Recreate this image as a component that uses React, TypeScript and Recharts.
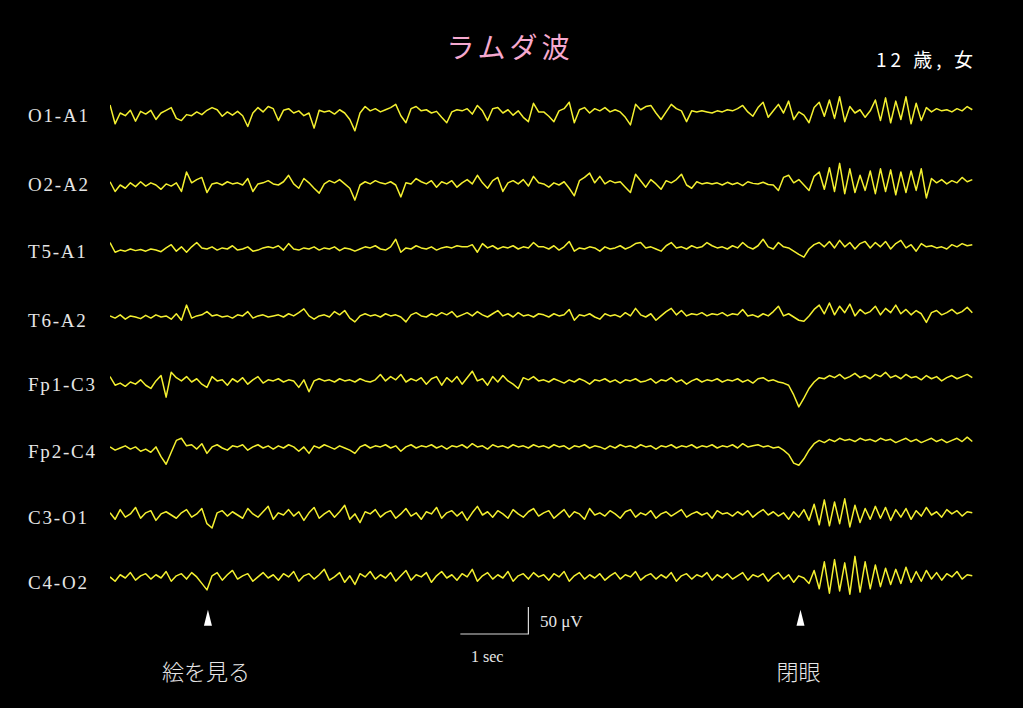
import React from 'react';
import { LineChart, Line, XAxis, YAxis, ComposedChart, Scatter } from 'recharts';

// ---- data -------------------------------------------------------------
const SAMPLE_SEC = 0.075; // seconds between samples
const TOTAL_SEC = 12.7;

const channelLabels = ['O1-A1', 'O2-A2', 'T5-A1', 'T6-A2', 'Fp1-C3', 'Fp2-C4', 'C3-O1', 'C4-O2'];

// µV, positive = up
const o1a1 = [
  15, -20, 0, -5, 5, -15, 3, -2, 5, -12,
  0, 5, 10, -10, -14, -3, -5, 2, -3, 5,
  10, 6, -6, 2, -4, 3, -5, -25, 0, 10,
  2, 12, 8, -14, 5, 8, 0, 4, -5, 0,
  -28, 5, 2, 4, -2, 6, 0, -12, -33, 0,
  12, 4, 8, 2, 6, 10, 16, -5, -18, 8,
  12, 4, 6, 0, 3, -8, -18, 2, 6, 4,
  8, -2, 14, 4, -14, 8, 10, 0, 6, -4,
  4, -8, -16, 18, 2, 2, -6, -16, 4, 8,
  20, -18, 6, 10, 0, 8, 4, 10, 2, 6,
  2, -8, -22, 16, 6, 12, 14, 0, -12, 2,
  16, 8, 4, -16, 4, 2, 4, 2, 0, 4,
  2, 6, 4, 8, 14, 2, -6, 10, 20, -8,
  4, 16, 0, 22, -12, 2, -4, -18, 10, 20,
  -6, 24, -10, 30, -16, 12, 0, 6, -8, 4,
  24, -14, 28, -18, 22, -12, 30, -20, 18, -14,
  10, 2, 8, 4, 6, 2, 8, 4, 12, 6,
];

const o2a2 = [
  6, -12, 0, -6, 4, -3, 6, -2, 4, 0,
  -8, 2, -2, 4, -12, 24, 4, 10, 14, -14,
  2, 4, 0, 6, 2, 4, 0, 12, -12, 2,
  4, 8, 2, 0, 6, 18, 2, -6, 12, 4,
  -6, -15, 2, 8, 4, 10, 2, -6, -28, 0,
  6, 2, 8, 4, 2, 6, 0, -22, 4, 2,
  12, 6, 2, 8, -4, 6, 2, 8, -4, 4,
  10, 2, 18, 4, -6, 8, 14, -12, 4, 8,
  2, 10, -2, 16, 4, 2, -4, 4, 0, 6,
  -6, -20, 8, 14, 22, 4, 16, 2, 8, 4,
  6, -4, -14, 20, 8, -4, 10, 2, -8, 8,
  4, 10, 20, 0, -6, 6, 2, 4, 2, 4,
  0, 5, 1, 4, -1, 6, 3, 2, 5, 1,
  0, -10, 14, 18, 4, 10, 0, -10, 16, 24,
  -8, 32, -12, 40, -16, 30, -14, 18, -10, 26,
  -16, 30, -12, 28, -18, 24, -14, 26, -10, 30,
  -24, 12, 4, 10, 2, 8, 4, 14, 6, 10,
];

const t5a1 = [
  12, -6, -2, -4, 0, -3, -1, -4, 0, -2,
  -5, 2, 8, -4, 4, -6, 4, 12, 2, 0,
  4, -2, 2, 0, 6, -2, 0, 4, -4, -2,
  2, 4, 2, 6, -2, 10, 0, -2, 2, 0,
  4, -2, 2, 0, 4, -3, 2, 0, -4, 0,
  4, 2, 6, 0, -2, 4, 18, -6, 2, 0,
  6, 2, 0, 4, -2, 2, 4, 2, 6, 4,
  4, 8, -6, 10, 2, 6, 0, 4, 2, 6,
  0, 4, 2, 12, 4, 4, 0, 6, -2, 4,
  14, -4, 2, 0, 4, 2, -4, 4, 0, 2,
  6, 0, 4, 10, 12, 2, 4, 0, -4, 6,
  12, 2, 4, 0, 6, 2, 4, 12, 6, 2,
  4, 0, 6, 2, 12, 4, 0, 6, 18, 4,
  0, 12, 4, 2, -4, -10, -15, 0, 8, 12,
  4, 14, 2, 16, 4, 12, 0, 10, 14, 2,
  12, 4, 14, 0, 10, 16, 2, 8, -4, 10,
  4, 6, 2, 4, 0, 8, 4, 10, 6, 8,
];

const t6a2 = [
  2, -2, 4, -4, 2, 0, -3, 3, -2, 4,
  0, 2, -4, 6, -6, 22, -2, 2, 4, 10,
  2, 4, 0, 2, -2, 4, 2, 10, -2, 2,
  4, 0, 2, 4, 0, 6, 2, 8, 15, 2,
  -4, 2, 4, 0, 10, 4, 12, -2, -9, 2,
  6, 2, 4, 0, 6, 2, 4, 0, -9, 4,
  8, 2, 0, 6, 2, 8, 4, 10, 0, 4,
  8, 2, 10, 4, 0, 6, 12, 2, 6, 0,
  8, 2, 4, 0, 6, 4, 0, 6, 2, 4,
  14, -6, 4, 2, 6, 0, -4, 6, 2, 4,
  0, 8, 2, 16, 4, 0, 6, -6, 2, 10,
  16, 4, 12, 2, 6, 4, 8, 2, 6, 4,
  8, 2, 6, 4, 14, 2, 4, 0, 6, 2,
  10, 20, 2, 6, 0, -6, -8, 2, 14, 22,
  6, 26, 4, 20, 8, 24, 2, 14, 6, 10,
  20, 4, 16, 8, 22, 6, 14, 4, 12, 6,
  -10, 8, 12, 4, 8, 14, 6, 10, 18, 8,
];

const fp1c3 = [
  10, -6, -2, -8, 0, -4, 4, -6, -12, 2,
  12, -28, 18, 8, 2, 10, 0, 6, -4, -10,
  10, 2, 4, -6, 6, 0, 8, -4, 4, 10,
  -2, 4, 2, 6, 0, 4, 2, -10, 4, -18,
  2, 6, 2, 4, 0, 6, 2, 4, 0, 6,
  2, 0, 4, 14, 2, 10, 4, 14, 0, 6,
  2, 8, -4, 6, 10, -6, 8, 0, 10, -4,
  8, 20, 2, 6, -6, 10, 0, 12, 2, -4,
  -12, 8, 4, 10, 2, 4, 0, 6, 2, -2,
  4, 0, 6, 2, -4, 4, 2, 6, 0, 4,
  -2, 4, 2, 6, 0, 2, 6, -2, 4, 2,
  8, 0, 4, -4, 2, 6, 0, 4, 2, 6,
  0, 4, 2, 6, 0, 4, -2, 6, 8, 2,
  4, 0, -2, -6, -24, -46, -30, -12, 0, 8,
  6, 12, 8, 14, 6, 10, 16, 8, 12, 6,
  14, 10, 18, 8, 12, 6, 14, 8, 10, 4,
  12, 6, 10, 2, 8, 12, 6, 10, 14, 8,
];

const fp2c4 = [
  2, -4, 0, 4, -2, 2, -6, -2, -8, 2,
  -16, -30, -8, 14, 18, 4, 6, -2, 8, -10,
  2, 6, 0, -4, 4, 2, 6, -4, 2, 6,
  0, 4, -2, 4, 0, 6, 2, -6, 2, -10,
  4, 0, 6, 2, -2, 4, 0, -4, -10, 2,
  6, 0, 4, 2, 6, 0, 4, -6, 2, 6,
  0, 4, 2, 6, 0, 4, -2, 4, 2, 6,
  0, 8, 2, 4, -2, 6, 2, 4, 0, 6,
  2, 4, 0, 6, 2, 4, 0, 6, 2, 4,
  -2, 4, 2, 6, 0, 4, 2, -2, 4, 0,
  6, 2, 4, 0, 6, 2, 4, -2, 4, 2,
  6, 0, 4, 2, 6, 0, 4, 2, 6, 0,
  4, 2, 6, 0, 8, 2, 4, 6, 2, 4,
  0, 2, -4, -12, -28, -32, -20, -4, 8, 14,
  10, 16, 12, 18, 14, 16, 12, 18, 14, 16,
  12, 18, 14, 16, 10, 14, 18, 12, 16, 10,
  14, 18, 12, 16, 10, 14, 18, 12, 20, 12,
];

const c3o1 = [
  4, -8, 10, -4, 2, 14, -6, 4, 8, -10,
  2, 6, 0, -6, 4, 10, -4, 2, 12, -16,
  -24, 4, 8, -2, 6, 0, -6, 12, 2, -4,
  6, 16, -8, 4, 0, 10, -2, 6, -10, 4,
  14, -6, 2, 8, -4, 6, 18, -8, 2, -14,
  6, 2, 10, -4, 4, 8, -6, 2, 12, -2,
  4, -8, 6, 2, 14, -6, 4, 8, -2, 6,
  -10, 4, 16, 0, 6, -4, 8, 2, -6, 10,
  2, -4, 6, 12, -2, 4, 8, -6, 2, 10,
  -4, 6, 2, -8, 12, 0, 4, -2, 8, 2,
  -6, 6, 10, -4, 4, 0, 8, -6, 2, 6,
  -2, 4, 10, -4, 2, 6, 0, 4, -6, 8,
  2, 4, -2, 6, 0, 8, -4, 4, 10, 0,
  6, -2, 4, -8, 6, -4, 10, -10, 20, -18,
  28, -20, 24, -16, 30, -22, 18, -14, 12, -8,
  16, -6, 14, -10, 10, -4, 12, -8, 8, -2,
  14, 0, 6, -4, 10, 2, 8, -2, 6, 4,
];

const c4o2 = [
  2, -6, 6, 0, 10, -4, 4, 8, -2, 6,
  0, 12, -6, 4, 8, -2, 10, 2, -10, -22,
  4, 10, -4, 6, 14, -2, 4, 8, -6, 2,
  10, 0, 6, -4, 8, 2, 12, -6, 4, 8,
  -2, 6, 16, -4, 2, 10, -8, 4, -12, 8,
  2, 12, -2, 6, 0, 10, -6, 4, 14, -4,
  6, 2, 10, -8, 4, 12, 0, 6, -4, 8,
  2, 16, -6, 4, 10, -2, 6, 0, 12, -6,
  4, 8, -2, 10, 2, 6, -4, 8, 2, 12,
  -6, 4, 10, -2, 6, 0, 8, -4, 4, 10,
  -2, 6, 2, 12, -4, 4, 8, -2, 6, 0,
  10, -6, 4, 8, -2, 6, 2, 10, -4, 6,
  0, 8, -2, 4, 10, -4, 6, 2, 8, -6,
  4, 10, -2, 6, -8, 4, 0, -10, 14, -20,
  30, -28, 34, -24, 28, -30, 40, -26, 30, -20,
  24, -16, 18, -12, 16, -10, 20, -8, 12, -6,
  14, -2, 10, -4, 8, 2, 12, -2, 6, 4,
];

const channelValues = [o1a1, o2a2, t5a1, t6a2, fp1c3, fp2c4, c3o1, c4o2];

// stimulus markers (seconds) and their labels
const eventTimes = [1.44, 10.15];
const eventLabels = ['絵を見る', '閉眼'];

// calibration bar
const calStartSec = 5.15;
const calSec = 1;
const calMicroVolt = 50;

// ---- layout -----------------------------------------------------------
const W = 1023;
const H = 708;
const TRACE_LEFT = 110;
const TRACE_W = 864;
const CH_H = 80;
const UV_HALF = 74; // ±µV shown in each 80px strip (≈0.54 px/µV)
const traceCenters = [113, 185, 249, 317, 382, 448, 515, 578];
const labelBaselines = [122, 191, 258, 327, 391, 458, 524, 589];
const TRACE_COLOR = '#f4f030';
const TEXT_COLOR = '#e6e6e6';

const rowsOf = (vals: number[]) => vals.map((v, i) => ({ t: +(i * SAMPLE_SEC).toFixed(3), v }));

const arrowShape = (props: any) => {
  const { cx, cy } = props;
  return <polygon points={`${cx},${cy - 8} ${cx - 4},${cy + 8} ${cx + 4},${cy + 8}`} fill="#ffffff" />;
};

export default function App() {
  const calData = [
    { t: calStartSec, v: 0 },
    { t: calStartSec + calSec, v: 0 },
    { t: calStartSec + calSec, v: calMicroVolt },
  ];
  const arrowData = eventTimes.map((t) => ({ t, v: 30 }));
  const annTop = 590;
  const annH = 100;

  return (
    <div style={{ position: 'absolute', left: 0, top: 0, width: W, height: H, background: '#000', overflow: 'hidden' }}>
      <svg width={W} height={H} style={{ position: 'absolute', left: 0, top: 0 }}>
        <text x={510} y={58} textAnchor="middle" fontFamily="'Noto Sans CJK JP', sans-serif" fontSize={28} letterSpacing={4} fill="#f6a9cf">
          ラムダ波
        </text>
        <text x={876} y={67} fontFamily="'Noto Sans CJK JP', sans-serif" fontSize={19} letterSpacing={4} fill="#ffffff">
          12 歳, 女
        </text>
        {channelLabels.map((lab, i) => (
          <text key={lab} x={28} y={labelBaselines[i]} fontFamily="'Liberation Serif', 'Times New Roman', serif" fontSize={19} letterSpacing={1.8} fill={TEXT_COLOR}>
            {lab}
          </text>
        ))}
        <text x={540} y={627} fontFamily="'Liberation Serif', serif" fontSize={17} fill={TEXT_COLOR}>
          50 μV
        </text>
        <text x={471} y={662} fontFamily="'Liberation Serif', serif" fontSize={16} fill={TEXT_COLOR}>
          1 sec
        </text>
        {eventTimes.map((t, i) => (
          <text key={i} x={TRACE_LEFT + (t / TOTAL_SEC) * TRACE_W - 2} y={680} textAnchor="middle" fontFamily="'Noto Sans CJK JP', sans-serif" fontSize={22} fontWeight={300} fill={TEXT_COLOR}>
            {eventLabels[i]}
          </text>
        ))}
      </svg>

      {channelValues.map((vals, i) => (
        <div key={i} style={{ position: 'absolute', left: TRACE_LEFT, top: traceCenters[i] - CH_H / 2 }}>
          <LineChart width={TRACE_W} height={CH_H} data={rowsOf(vals)} margin={{ top: 0, right: 0, bottom: 0, left: 0 }}>
            <XAxis type="number" dataKey="t" domain={[0, TOTAL_SEC]} allowDataOverflow hide />
            <YAxis type="number" domain={[-UV_HALF, UV_HALF]} allowDataOverflow hide />
            <Line type="linear" dataKey="v" stroke={TRACE_COLOR} strokeWidth={1.5} strokeLinejoin="round" dot={false} isAnimationActive={false} />
          </LineChart>
        </div>
      ))}

      <div style={{ position: 'absolute', left: TRACE_LEFT, top: annTop }}>
        <ComposedChart width={TRACE_W} height={annH} data={calData} margin={{ top: 0, right: 0, bottom: 0, left: 0 }}>
          <XAxis type="number" dataKey="t" domain={[0, TOTAL_SEC]} allowDataOverflow hide />
          <YAxis type="number" domain={[-103.7, 81.5]} allowDataOverflow hide />
          <Line type="linear" dataKey="v" stroke="#d8d8d8" strokeWidth={1.2} dot={false} isAnimationActive={false} />
          <Scatter data={arrowData} dataKey="v" shape={arrowShape} isAnimationActive={false} />
        </ComposedChart>
      </div>
    </div>
  );
}
